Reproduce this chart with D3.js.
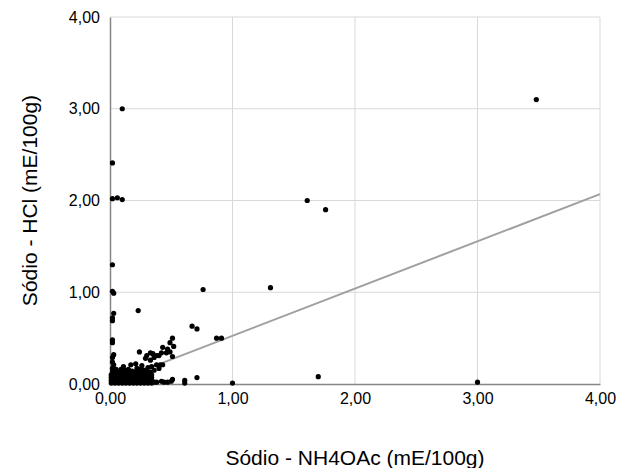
<!DOCTYPE html>
<html><head><meta charset="utf-8">
<script src="https://cdn.jsdelivr.net/npm/d3@7"></script>
<style>body{margin:0;background:#fff}svg{display:block}</style>
</head><body>
<svg id="c" width="624" height="468"></svg>
<script>
// Data: [Sódio NH4OAc, Sódio HCl] (mE/100g)
const outliers = [
  [3.48,3.10],[0.10,3.00],[0.02,2.41],[0.02,2.02],[0.06,2.03],[0.10,2.01],[1.61,2.00],[1.76,1.90],
  [0.02,1.30],[0.02,1.01],[0.03,0.99],[0.23,0.80],[0.76,1.03],[1.31,1.05],[1.70,0.08],[3.00,0.02],[1.00,0.01]
];
const midPoints = [
  [0.03,0.77],[0.02,0.72],[0.02,0.69],[0.02,0.48],[0.02,0.45],[0.67,0.63],[0.71,0.60],[0.87,0.50],[0.91,0.50],
  [0.51,0.50],[0.49,0.45],[0.52,0.41],[0.43,0.40],[0.47,0.38],[0.49,0.35],[0.46,0.34],[0.42,0.34],[0.38,0.31],
  [0.35,0.33],[0.40,0.31],[0.51,0.30],[0.24,0.35],[0.29,0.28],[0.30,0.31],[0.33,0.34],[0.36,0.29],[0.33,0.26],
  [0.38,0.21],[0.41,0.21],[0.43,0.21],[0.34,0.19],[0.40,0.17],[0.36,0.15],[0.26,0.20],[0.21,0.22],[0.17,0.21],
  [0.11,0.19],[0.09,0.16],[0.03,0.32],[0.02,0.29],[0.03,0.21],[0.02,0.17],[0.02,0.24]
];
const bottomRow = [
  [0.42,0.03],[0.44,0.02],[0.47,0.02],[0.50,0.03],[0.51,0.05],[0.61,0.04],[0.61,0.01],[0.71,0.07],[0.26,0.04],[0.38,0.02]
];
const cluster = [
  [0.01,0.01],[0.04,0.01],[0.07,0.01],[0.10,0.01],[0.13,0.01],[0.16,0.01],[0.19,0.01],[0.22,0.01],[0.25,0.01],[0.28,0.01],[0.31,0.01],[0.34,0.01],
  [0.025,0.025],[0.055,0.025],[0.085,0.025],[0.115,0.025],[0.145,0.025],[0.175,0.025],[0.205,0.025],[0.235,0.025],[0.265,0.025],[0.295,0.025],[0.325,0.025],[0.36,0.02],
  [0.01,0.04],[0.04,0.04],[0.07,0.04],[0.10,0.04],[0.13,0.04],[0.16,0.04],[0.19,0.04],[0.22,0.04],[0.25,0.04],[0.28,0.04],[0.31,0.04],[0.34,0.04],
  [0.025,0.055],[0.055,0.055],[0.085,0.055],[0.115,0.055],[0.145,0.055],[0.175,0.055],[0.205,0.055],[0.235,0.055],[0.265,0.055],[0.295,0.055],[0.325,0.055],
  [0.01,0.07],[0.04,0.07],[0.07,0.07],[0.10,0.07],[0.13,0.07],[0.16,0.07],[0.19,0.07],[0.22,0.07],[0.25,0.07],[0.28,0.07],[0.31,0.07],[0.34,0.07],
  [0.025,0.085],[0.055,0.085],[0.085,0.085],[0.115,0.085],[0.145,0.085],[0.175,0.085],[0.205,0.085],[0.235,0.085],[0.265,0.085],[0.295,0.085],[0.325,0.085],
  [0.01,0.10],[0.04,0.10],[0.07,0.10],[0.10,0.10],[0.13,0.10],[0.16,0.10],[0.19,0.10],[0.22,0.10],[0.25,0.10],[0.28,0.10],[0.31,0.10],[0.34,0.10],
  [0.025,0.115],[0.085,0.115],[0.14,0.115],[0.175,0.115],[0.225,0.115],[0.26,0.115],[0.29,0.115],[0.32,0.115],
  [0.02,0.13],[0.06,0.13],[0.12,0.13],[0.15,0.13],[0.20,0.13],[0.24,0.13],[0.27,0.13],[0.30,0.13],[0.33,0.13],
  [0.05,0.16],[0.15,0.16],[0.22,0.17],[0.28,0.15],[0.31,0.18],[0.18,0.14],[0.25,0.16],[0.12,0.15]
];
const trendSlope = 0.515;
const trendIntercept = 0.01;
const xTicks = [0,1,2,3,4];
const yTicks = [0,1,2,3,4];
const xTitle = "Sódio - NH4OAc (mE/100g)";
const yTitle = "Sódio - HCl (mE/100g)";

const points = outliers.concat(midPoints, bottomRow, cluster);
const svg = d3.select("#c");
const m = {l:110, r:24, t:17, b:84};
const W = 624, H = 468;
const x = d3.scaleLinear().domain([0,4]).range([m.l, W-m.r]);
const y = d3.scaleLinear().domain([0,4]).range([H-m.b, m.t]);
const fmt = d => d3.format(".2f")(d).replace(".", ",");
const font = "'Liberation Sans', Arial, sans-serif";

// gridlines
svg.append("g").selectAll("line").data(xTicks.slice(1)).join("line")
  .attr("x1", d=>x(d)).attr("x2", d=>x(d)).attr("y1", y(0)).attr("y2", y(4))
  .attr("stroke", "#d9d9d9").attr("stroke-width", 1);
svg.append("g").selectAll("line").data(yTicks.slice(1)).join("line")
  .attr("x1", x(0)).attr("x2", x(4)).attr("y1", d=>y(d)).attr("y2", d=>y(d))
  .attr("stroke", "#d9d9d9").attr("stroke-width", 1);

// axes
const xa = svg.append("g").attr("transform", `translate(0,${y(0)})`)
  .call(d3.axisBottom(x).tickValues(xTicks).tickFormat(fmt).tickSize(0).tickPadding(9));
const ya = svg.append("g").attr("transform", `translate(${x(0)},0)`)
  .call(d3.axisLeft(y).tickValues(yTicks).tickFormat(fmt).tickSize(0).tickPadding(10));
[xa, ya].forEach(a => {
  a.select(".domain").attr("stroke", "#868686").attr("stroke-width", 1.5);
  a.selectAll("text").attr("font-family", font).attr("font-size", 16).attr("fill", "#000");
});

// trend line
svg.append("line")
  .attr("x1", x(0)).attr("y1", y(trendIntercept))
  .attr("x2", x(4)).attr("y2", y(trendIntercept + trendSlope*4))
  .attr("stroke", "#a0a0a0").attr("stroke-width", 2);

// points
svg.append("g").selectAll("circle").data(points).join("circle")
  .attr("cx", d=>x(d[0])).attr("cy", d=>y(d[1])).attr("r", 2.6).attr("fill", "#000");

// titles
svg.append("text").attr("x", (x(0)+x(4))/2).attr("y", 465).attr("text-anchor", "middle")
  .attr("font-family", font).attr("font-size", 21).text(xTitle);
svg.append("text").attr("transform", `translate(37,${(y(0)+y(4))/2}) rotate(-90)`).attr("text-anchor", "middle")
  .attr("font-family", font).attr("font-size", 21).text(yTitle);
</script>
</body></html>
